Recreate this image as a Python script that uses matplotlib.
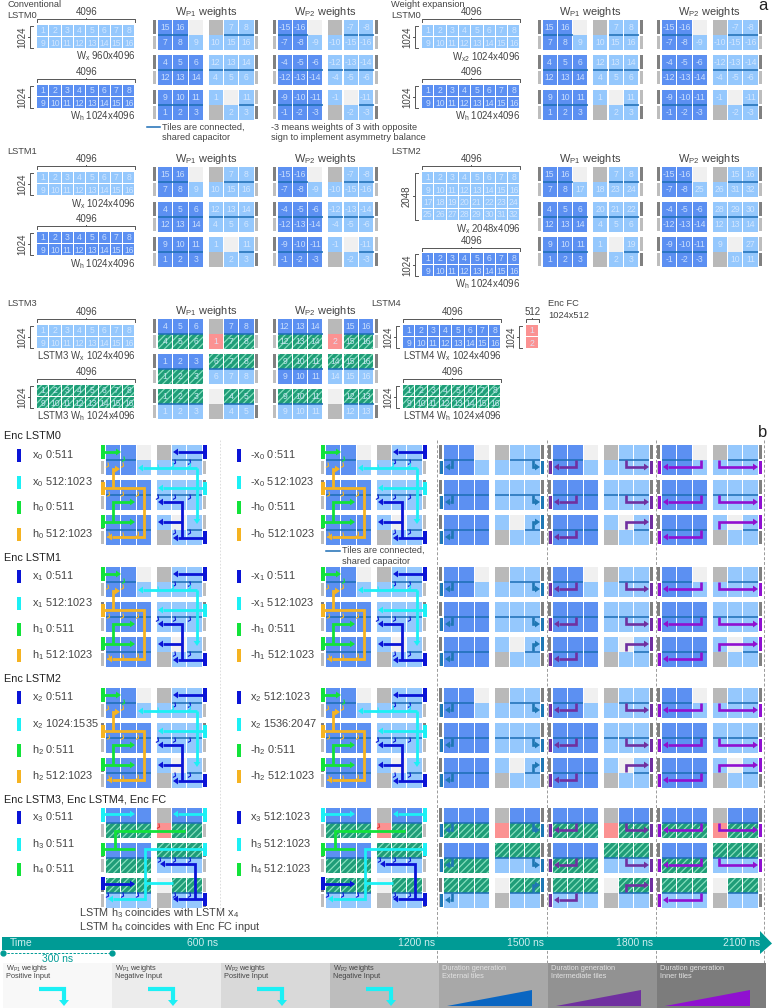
import matplotlib
matplotlib.use("Agg")
import matplotlib.pyplot as plt
from matplotlib.patches import Rectangle, Polygon

plt.rcParams['font.family'] = ['Liberation Sans', 'DejaVu Sans']
plt.rcParams['mathtext.default'] = 'regular'
plt.rcParams['hatch.linewidth'] = 0.9

# tile labels, six sub rows per block, '.' = no label
P1_LSTM0 = ["15 16 . . 7 8", "7 8 9 10 15 16", "4 5 6 12 13 14", "12 13 14 4 5 6", "9 10 11 1 . 11", "1 2 3 . 2 3"]
P2_LSTM0 = ["-15 -16 . . -7 -8", "-7 -8 -9 -10 -15 -16", "-4 -5 -6 -12 -13 -14", "-12 -13 -14 -4 -5 -6", "-9 -10 -11 -1 . -11", "-1 -2 -3 . -2 -3"]
P1_LSTM2 = ["15 16 . . 7 8", "7 8 17 18 23 24", "4 5 6 20 21 22", "12 13 14 4 5 6", "9 10 11 1 . 19", "1 2 3 . 2 3"]
P2_LSTM2 = ["-15 -16 . . 15 16", "-7 -8 25 26 31 32", "-4 -5 -6 28 29 30", "-12 -13 -14 12 13 14", "-9 -10 -11 9 . 27", "-1 -2 -3 . 10 11"]
P1_LSTM3 = ["4 5 6 . 7 8", "4 5 6 1 7 8", "1 2 3 6 7 8", "1 2 3 6 7 8", "1 2 3 . 4 5", "1 2 3 . 4 5"]
P2_LSTM3 = ["12 13 14 . 15 16", "12 13 14 2 15 16", "9 10 11 14 15 16", "9 10 11 14 15 16", "9 10 11 . 12 13", "9 10 11 . 12 13"]

# d dark blue, l light blue, e empty, g grey, h hatched green, r red
FILL_STD = ["ddegll", "ddllll", "dddlll", "dddlll", "dddlel", "dddgll"]
FILL_P1_L3 = ["dddgdd", "hhhrhh", "dddhhh", "hhhlll", "hhhehh", "lllgll"]
FILL_P2_L3 = ["dddgdd", "hhhrhh", "hhhhhh", "dddlll", "hhhehh", "lllgll"]
LINK_STD = [[0, 1, 4, 5], [0, 1, 2, 3, 4, 5], [0, 1, 2, 5]]
LINK_L3 = [[0, 1, 2, 4, 5], [0, 1, 2, 3, 4, 5], [0, 1, 2, 4, 5]]

MAT_2 = [[1, 2, 3, 4, 5, 6, 7, 8], [9, 10, 11, 12, 13, 14, 15, 16]]
MAT_4 = MAT_2 + [[17, 18, 19, 20, 21, 22, 23, 24], [25, 26, 27, 28, 29, 30, 31, 32]]

SECTION_TITLES = ["Enc LSTM0", "Enc LSTM1", "Enc LSTM2", "Enc LSTM3, Enc LSTM4, Enc FC"]
LEFT_LABELS = [
    ["x$_0$ 0:511", "x$_0$ 512:1023", "h$_0$ 0:511", "h$_0$ 512:1023"],
    ["x$_1$ 0:511", "x$_1$ 512:1023", "h$_1$ 0:511", "h$_1$ 512:1023"],
    ["x$_2$ 0:511", "x$_2$ 1024:1535", "h$_2$ 0:511", "h$_2$ 512:1023"],
    ["x$_3$ 0:511", "h$_3$ 0:511", "h$_4$ 0:511"],
]
RIGHT_LABELS = [
    ["-x$_0$ 0:511", "-x$_0$ 512:1023", "-h$_0$ 0:511", "-h$_0$ 512:1023"],
    ["-x$_1$ 0:511", "-x$_1$ 512:1023", "-h$_1$ 0:511", "-h$_1$ 512:1023"],
    ["x$_2$ 512:1023", "x$_2$ 1536:2047", "-h$_2$ 0:511", "-h$_2$ 512:1023"],
    ["x$_3$ 512:1023", "h$_3$ 512:1023", "h$_4$ 512:1023"],
]
TIME_LABELS = ["600 ns", "1200 ns", "1500 ns", "1800 ns", "2100 ns"]
STAGE_TITLES = ["W$_{P1}$ weights", "W$_{P1}$ weights", "W$_{P2}$ weights", "W$_{P2}$ weights",
                "Duration generation", "Duration generation", "Duration generation"]
STAGE_SUBS = ["Positive Input", "Negative Input", "Positive Input", "Negative Input",
              "External tiles", "Intermediate tiles", "Inner tiles"]

DARK, LIGHT = '#5c90f2', '#95c8fd'
COLORS = {'d': DARK, 'l': LIGHT, 'e': '#f0f0f0', 'g': '#b9b9b9', 'h': '#1f9d78', 'r': '#fb9292'}
LINK = '#1c6db5'
BLUE, CYAN, GREEN, ORANGE = '#0a14d6', '#1cf0f5', '#12e23a', '#f5b321'
STEEL, PURPLE, VIOLET = '#1f77b4', '#7030a0', '#9010d0'
TEAL = '#009b95'
TXT = '#444444'
COL_X = [5, 20.4, 35.8, 55.6, 71, 86.4]
TILE_W = 14.1

fig = plt.figure(figsize=(7.72, 10.08), dpi=100)
ax = fig.add_axes([0, 0, 1, 1])
ax.set_xlim(0, 772)
ax.set_ylim(1008, 0)
ax.axis('off')


def label(x, y, s, size=7, color=TXT, ha='left', va='center', **kw):
    ax.text(x, y, s, fontsize=size, color=color, ha=ha, va=va, **kw)


def tile(x, y, w, h, kind, s=''):
    if kind == 'h':
        ax.add_patch(Rectangle((x, y), w, h, facecolor=COLORS['h'], edgecolor='#86dfbd', hatch='/////', lw=0))
    else:
        ax.add_patch(Rectangle((x, y), w, h, facecolor=COLORS[kind], lw=0))
    if s != '' and s != '.':
        label(x + w / 2, y + h / 2 + 0.3, s, size=6.2, color='#dcebff', ha='center', alpha=0.85)


def block(x0, y0, fills, links, labels=None):
    edge_d, edge_l = '#808080', '#bdbdbd'
    for r in range(3):
        ry = y0 + r * 35
        for s in range(2):
            sy = ry + s * 15
            names = labels[r * 2 + s].split() if labels else [''] * 6
            for c in range(6):
                tile(x0 + COL_X[c], sy, TILE_W, 14.5, fills[r * 2 + s][c], names[c])
            top_dark = s == 0
            ax.add_patch(Rectangle((x0, sy + 0.5 * s), 3.2, 13.7, facecolor=edge_d if top_dark else edge_l, lw=0))
            right_dark = (s == 0) if r < 2 else (s == 1)
            ax.add_patch(Rectangle((x0 + 102, sy + 0.5 * s), 3.2, 13.7, facecolor=edge_d if right_dark else edge_l, lw=0))
        for c in links[r]:
            ax.plot([x0 + COL_X[c], x0 + COL_X[c] + TILE_W + 0.5], [ry + 14.7, ry + 14.7], color=LINK, lw=1.1, solid_capstyle='butt')


def matrix(x0, y0, rows, kind, caption, cap_y, top_y, side='1024', w=12.3, h=12.2, top='4096'):
    for r, row in enumerate(rows):
        for c, n in enumerate(row):
            tile(x0 + c * w, y0 + r * h, w - 1.0, h - 1.0, kind, str(n))
    x1 = x0 + len(rows[0]) * w
    y1 = y0 + len(rows) * h
    ax.plot([x0 - 0.5, x0 - 0.5, x1, x1], [top_y + 3, top_y, top_y, top_y + 3], color='#555555', lw=0.7)
    ax.plot([(x0 + x1) / 2] * 2, [top_y - 1.5, top_y], color='#555555', lw=0.7)
    label((x0 + x1) / 2, top_y - 7, top, size=7, ha='center')
    ax.plot([x0 - 4, x0 - 7, x0 - 7, x0 - 4], [y0 + 1, y0 + 1, y1 - 1, y1 - 1], color='#555555', lw=0.7)
    ax.plot([x0 - 9, x0 - 7], [(y0 + y1) / 2] * 2, color='#555555', lw=0.7)
    label(x0 - 15, (y0 + y1) / 2, side, size=7, ha='center', rotation=90)
    if caption:
        label(x1, cap_y, caption, size=6.9, ha='right')


def weights(x0, y0, fills, links, p1, p2):
    label(x0 + 53, y0 - 8, "W$_{P1}$ weights", size=7.9, ha='center')
    label(x0 + 119 + 53, y0 - 8, "W$_{P2}$ weights", size=7.9, ha='center')
    block(x0, y0, fills[0], links, p1)
    block(x0 + 119.5, y0, fills[1], links, p2)


def route(x0, y0, pts, color, arrow=True, lw=2.0, head=(5.0, 3.4)):
    xs = [x0 + p[0] for p in pts]
    ys = [y0 + p[1] for p in pts]
    if arrow:
        dx, dy = xs[-1] - xs[-2], ys[-1] - ys[-2]
        n = (dx * dx + dy * dy) ** 0.5
        ux, uy = dx / n, dy / n
        tip = (xs[-1], ys[-1])
        bx, by = tip[0] - ux * head[0], tip[1] - uy * head[0]
        ax.add_patch(Polygon([tip, (bx - uy * head[1], by + ux * head[1]), (bx + uy * head[1], by - ux * head[1])],
                             facecolor=color, lw=0, zorder=6))
        xs[-1], ys[-1] = bx, by
    ax.plot(xs, ys, color=color, lw=lw, solid_joinstyle='miter', solid_capstyle='butt', zorder=5)


def bar(x0, y0, x, y1, y2, color, w=3.6):
    ax.add_patch(Rectangle((x0 + x - w / 2, y0 + y1), w, y2 - y1, facecolor=color, lw=0, zorder=5))


def hooks(x0, y0, pts, color):
    for x, y in pts:
        ax.plot([x0 + x, x0 + x + 0.6, x0 + x - 1.6], [y0 + y, y0 + y + 3, y0 + y + 4.2], color=color, lw=0.8, zorder=4)


def routes_std(x0, y0):
    bar(x0, y0, 2, 0, 14, GREEN)
    route(x0, y0, [(2, 7), (20, 7)], GREEN)
    bar(x0, y0, 104, 0, 14, BLUE)
    route(x0, y0, [(104, 7), (72, 7)], BLUE)
    route(x0, y0, [(96, 23), (37, 23)], CYAN)
    route(x0, y0, [(96, 23), (96, 79)], CYAN)
    bar(x0, y0, 104, 37, 50, CYAN)
    route(x0, y0, [(104, 43), (57, 43)], CYAN)
    bar(x0, y0, 2, 37, 50, ORANGE)
    route(x0, y0, [(2, 43), (43, 43), (43, 92), (6, 92)], ORANGE)
    route(x0, y0, [(12, 43), (12, 24), (19, 24)], ORANGE)
    bar(x0, y0, 2, 70, 83, GREEN)
    route(x0, y0, [(2, 77), (34, 77)], GREEN)
    route(x0, y0, [(12, 77), (12, 57), (34, 57)], GREEN)
    bar(x0, y0, 104, 86, 99, BLUE)
    route(x0, y0, [(104, 93), (72, 93)], BLUE)
    route(x0, y0, [(81, 93), (81, 57), (57, 57)], BLUE)
    route(x0, y0, [(81, 77), (57, 77)], BLUE)
    hooks(x0, y0, [(74, 15), (89, 15), (57, 50), (74, 50), (89, 50), (74, 85), (89, 85)], BLUE)
    hooks(x0, y0, [(7, 18), (22, 18), (8, 47), (22, 47), (37, 47), (8, 88), (22, 88), (37, 87)], ORANGE)
    hooks(x0, y0, [(57, 20), (72, 18), (89, 18)], CYAN)
    hooks(x0, y0, [(23, 12)], GREEN)


def routes_l3(x0, y0):
    bar(x0, y0, 2, 0, 14, CYAN)
    route(x0, y0, [(2, 6), (34, 6)], CYAN)
    bar(x0, y0, 104, 0, 14, CYAN)
    route(x0, y0, [(104, 6), (72, 6)], CYAN)
    bar(x0, y0, 2, 35, 48, GREEN)
    route(x0, y0, [(2, 41), (34, 41)], GREEN, arrow=False)
    route(x0, y0, [(14, 41), (14, 23), (84, 23)], GREEN, arrow=False)
    bar(x0, y0, 104, 35, 48, CYAN)
    route(x0, y0, [(104, 41), (44, 41), (44, 91), (7, 91)], CYAN)
    route(x0, y0, [(44, 75), (72, 75)], CYAN, arrow=False)
    bar(x0, y0, 2, 69, 82, BLUE)
    route(x0, y0, [(2, 76), (34, 76)], BLUE)
    bar(x0, y0, 104, 85, 98, BLUE)
    route(x0, y0, [(104, 91), (72, 91)], BLUE)
    route(x0, y0, [(94, 91), (94, 56), (59, 56)], BLUE)
    hooks(x0, y0, [(59, 50), (74, 50), (89, 50), (7, 85), (22, 85), (37, 85), (74, 85), (89, 85)], BLUE)
    hooks(x0, y0, [(58, 16)], '#e03030')


def routes_time(x0, y0, left_x, right_x, color, last_right=True):
    for r in range(3):
        ry = y0 + r * 35
        bar(x0, ry, 2.5, 15.5, 29, color)
        route(x0, ry, [(left_x, 15), (left_x, 22), (6, 22)], color, lw=1.9)
        if r < 2:
            bar(x0, ry, 103.6, 15.5, 29, color)
            route(x0, ry, [(right_x, 15), (right_x, 22), (101, 22)], color, lw=1.9)
        elif last_right:
            bar(x0, ry, 103.6, 0, 14, color)
            route(x0, ry, [(right_x, 14), (right_x, 7), (101, 7)], color, lw=1.9)


# panel a, text
label(7, 4.5, "Conventional", size=6.7)
label(7, 15.5, "LSTM0", size=6.7)
label(391, 4.5, "Weight expansion", size=6.7)
label(391, 15.5, "LSTM0", size=6.7)
label(7, 151, "LSTM1", size=6.7)
label(391, 151, "LSTM2", size=6.7)
label(7, 303, "LSTM3", size=6.7)
label(371, 303, "LSTM4", size=6.7)
label(758, 10, "a", size=12, color='#222222', va='baseline')
label(758, 437, "b", size=12, color='#222222', va='baseline')

# panel a, matrices
matrix(37, 25, MAT_2, 'l', "W$_x$ 960x4096", 56, 19)
matrix(37, 85, MAT_2, 'd', "W$_h$ 1024x4096", 116, 79)
matrix(37, 172, MAT_2, 'l', "W$_x$ 1024x4096", 204, 166)
matrix(37, 232, MAT_2, 'd', "W$_h$ 1024x4096", 264, 226)
matrix(37, 325, MAT_2, 'l', "LSTM3 W$_x$ 1024x4096", 356, 319)
matrix(37, 385, MAT_2, 'h', "LSTM3 W$_h$ 1024x4096", 416, 379)
matrix(422, 25, MAT_2, 'l', "W$_{x2}$ 1024x4096", 57, 19)
matrix(422, 85, MAT_2, 'd', "W$_h$ 1024x4096", 116, 79)
matrix(422, 172, MAT_4, 'l', "W$_x$ 2048x4096", 229, 166, side='2048')
matrix(422, 253, MAT_2, 'd', "W$_h$ 1024x4096", 284, 248)
matrix(403, 325, MAT_2, 'd', "LSTM4 W$_x$ 1024x4096", 356, 319)
matrix(403, 385, MAT_2, 'h', "LSTM4 W$_h$ 1024x4096", 416, 379)
matrix(526, 325, [[1], [2]], 'r', "", 0, 319, w=12.6, top='512')
label(548, 304, "Enc FC", size=6.7)
label(548, 315, "1024x512", size=6.7)

# panel a, weight blocks
std = [FILL_STD, FILL_STD]
weights(153, 20, std, LINK_STD, P1_LSTM0, P2_LSTM0)
weights(153, 167, std, LINK_STD, P1_LSTM0, P2_LSTM0)
weights(537.5, 20, std, LINK_STD, P1_LSTM0, P2_LSTM0)
weights(537.5, 167, std, LINK_STD, P1_LSTM2, P2_LSTM2)
weights(153, 319, [FILL_P1_L3, FILL_P2_L3], LINK_L3, P1_LSTM3, P2_LSTM3)

ax.plot([147, 160], [127, 127], color=LINK, lw=1.1)
label(162, 127, "Tiles are connected,", size=6.6)
label(162, 138, "shared capacitor", size=6.6)
label(271, 127, "-3 means weights of 3 with opposite", size=6.6)
label(271, 138, "sign to implement asymmetry balance", size=6.6)

# panel b
section_y = [445, 567, 688, 808]
title_y = [436, 558, 679, 799]
label_y = [[455, 482, 507, 534], [576, 603, 629, 655], [697, 724, 750, 776], [817, 844, 869]]
left_colors = [[BLUE, CYAN, GREEN, ORANGE]] * 3 + [[BLUE, CYAN, GREEN]]
time_blocks = [(439, 13, 94, STEEL), (548, 28, 78, PURPLE), (657, 44, 62, VIOLET)]

for x in [437, 546.5, 656, 763.5]:
    ax.plot([x, x], [440, 963], color='#9a9a9a', lw=0.7, ls=(0, (3, 2)), zorder=1)
ax.plot([220, 220], [440, 930], color='#d8d8d8', lw=0.6, ls=(0, (2, 2)), zorder=1)

for i, y0 in enumerate(section_y):
    last = i == 3
    fills = FILL_P1_L3 if last else FILL_STD
    links = LINK_L3 if last else LINK_STD
    label(4, title_y[i], SECTION_TITLES[i], size=7.8, color='#222222')
    for j, y in enumerate(label_y[i]):
        ax.add_patch(Rectangle((17, y - 6.5), 4, 13, facecolor=left_colors[i][j], lw=0))
        label(31.5, y, LEFT_LABELS[i][j], size=7.9)
        ax.add_patch(Rectangle((236.5, y - 6.5), 4, 13, facecolor=left_colors[i][j], lw=0))
        label(250.5, y, RIGHT_LABELS[i][j], size=7.9)
    for x0 in [101, 321]:
        block(x0, y0, fills, links)
        if last:
            routes_l3(x0, y0)
        else:
            routes_std(x0, y0)
    for x0, lx, rx, col in time_blocks:
        block(x0, y0, fills, links)
        routes_time(x0, y0, lx, rx, col, last_right=not (last and col == VIOLET))

ax.plot([326, 340], [551, 551], color=LINK, lw=1.1)
label(342, 550, "Tiles are connected,", size=6.6)
label(342, 561, "shared capacitor", size=6.6)
label(79, 913, "LSTM h$_3$ coincides with LSTM x$_4$", size=7.8)
label(79, 927, "LSTM h$_4$ coincides with Enc FC input", size=7.8)

# time arrow
ax.add_patch(Rectangle((2, 937), 760, 13, facecolor=TEAL, lw=0, zorder=3))
ax.add_patch(Polygon([(760, 931), (772, 943.5), (760, 954)], facecolor=TEAL, lw=0, zorder=3))
label(10, 943.5, "Time", size=7.5, color='#cdeeee', zorder=4)
for x, s in zip([218, 435, 544, 653, 760], TIME_LABELS):
    label(x, 943.5, s, size=7.5, color='#cdeeee', ha='right', zorder=4)
ax.plot([3, 112], [952.5, 952.5], color=TEAL, lw=0.7, ls=(0, (2.5, 1.5)))
ax.plot([3, 112], [952.5, 952.5], 'o', color=TEAL, ms=3.5)
label(58, 959, "300 ns", size=7.5, color=TEAL, ha='center')

# stage strip
stage_x = [3, 112, 221, 330, 439, 548, 657]
stage_colors = ['#f8f8f8', '#ececec', '#d9d9d9', '#bdbdbd', '#a8a8a8', '#929292', '#7c7c7c']
for i, x in enumerate(stage_x):
    ax.add_patch(Rectangle((x, 963), 109, 45, facecolor=stage_colors[i], lw=0))
    tc = '#444444' if i < 4 else '#e2e2e2'
    label(x + 3, 968, STAGE_TITLES[i], size=5.3, color=tc)
    label(x + 3, 977, STAGE_SUBS[i], size=5.3, color=tc)
    if i < 4:
        route(x, 0, [(36, 989), (61, 989), (61, 1006)], CYAN, lw=3.0, head=(6.0, 5.0))
    else:
        c = ['#0a66c2', PURPLE, VIOLET][i - 4]
        ax.add_patch(Polygon([(x + 8, 1006), (x + 93, 1006), (x + 93, 989.5)], facecolor=c, lw=0))

fig.savefig('out.png', dpi=100)
